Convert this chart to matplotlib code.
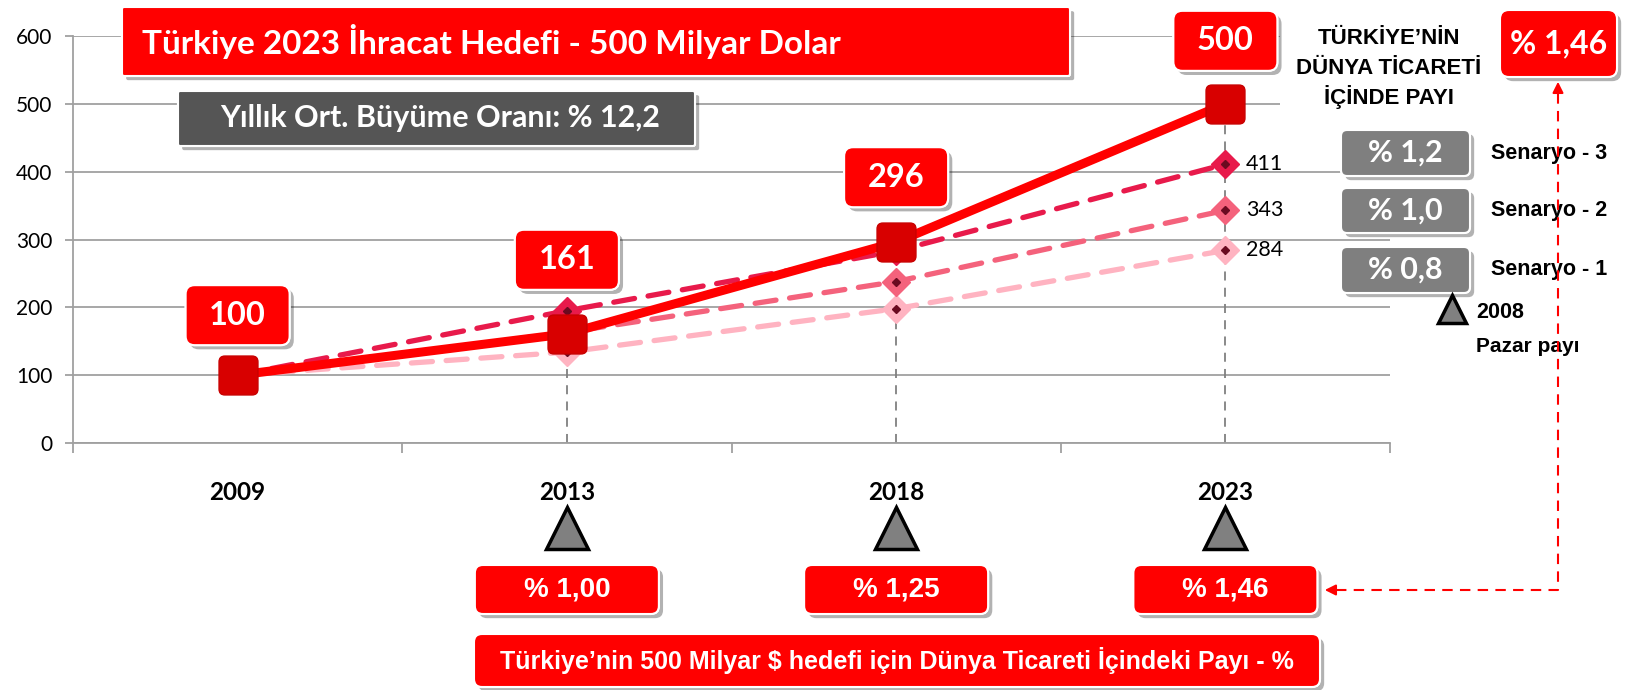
import matplotlib
matplotlib.use('Agg')
import matplotlib.pyplot as plt
import matplotlib.patheffects as pe
from matplotlib.patches import FancyBboxPatch
from matplotlib.transforms import blended_transform_factory

# data
years = ['2009', '2013', '2018', '2023']
hedef = [100, 161, 296, 500]
senaryo_3 = [100, 195, 283, 411]
senaryo_2 = [100, 163, 238, 343]
senaryo_1 = [100, 134, 198, 284]
hedef_pay = ['% 1,00', '% 1,25', '% 1,46']      # 2013, 2018, 2023
senaryo_pay = ['% 1,2', '% 1,0', '% 0,8']
senaryo_names = ['Senaryo - 3', 'Senaryo - 2', 'Senaryo - 1']
yticks = [0, 100, 200, 300, 400, 500, 600]

CAL = 'Lato'
ARIAL = ['Liberation Sans', 'DejaVu Sans']
W, H = 1626, 690

fig = plt.figure(figsize=(W / 100, H / 100), dpi=100)
ax = fig.add_axes([73 / W, (H - 443) / H, (1390 - 73) / W, (443 - 36) / H])
ax.set_zorder(1)

# axes and grid
ax.set_xlim(-0.5, 3.5)
ax.set_ylim(0, 600)
ax.set_yticks(yticks)
ax.set_yticklabels([str(v) for v in yticks], fontsize=15, family=CAL)
ax.yaxis.grid(True, color='#a0a0a0', lw=1.3)
ax.set_axisbelow(True)
ax.set_xticks(range(len(years)))
ax.set_xticklabels(years, fontsize=17.5, fontweight='bold', family=CAL)
ax.set_xticks([i - 0.5 for i in range(len(years) + 1)], minor=True)
ax.tick_params(axis='x', which='major', length=0, pad=27)
ax.tick_params(axis='x', which='minor', length=7, color='#a0a0a0', width=1.3)
ax.tick_params(axis='y', length=6, color='#a0a0a0', width=1.3, pad=9)
for s in ['top', 'right']:
    ax.spines[s].set_visible(False)
for s in ['left', 'bottom']:
    ax.spines[s].set_color('#a0a0a0')
    ax.spines[s].set_linewidth(1.3)

x = list(range(len(years)))

# drop lines
tops = [max(a, b, c, d) for a, b, c, d in zip(hedef, senaryo_3, senaryo_2, senaryo_1)]
ax.vlines(x[1:], 0, tops[1:], colors='#808080', linestyles=(0, (5, 4)), lw=1.3, zorder=1)

# scenario lines
for vals, col in [(senaryo_1, '#ffb3c1'), (senaryo_2, '#f4627c'), (senaryo_3, '#e81a4b')]:
    ax.plot(x, vals, color=col, lw=3.8, dashes=(4, 2.6), dash_capstyle='round', zorder=2)
    ax.plot(x[1:], vals[1:], 'D', color=col, ms=14, zorder=2.5)
    ax.plot(x[1:], vals[1:], 'D', color='#6a0a20', ms=4, zorder=2.6)

# main line with rounded square markers
rsq = FancyBboxPatch((-0.5, -0.5), 1, 1, boxstyle='round,pad=0,rounding_size=0.15').get_path()
ax.plot(x, hedef, color='#ff0000', lw=6.5, solid_capstyle='round', zorder=3)
ax.plot(x, hedef, ls='none', marker=rsq, ms=28, mfc='#d80000', mec='#c80000', zorder=4)

# value labels next to 2023 scenario markers
for v in [senaryo_3[-1], senaryo_2[-1], senaryo_1[-1]]:
    ax.annotate(str(v), (3, v), xytext=(15, 0), textcoords='offset points',
                ha='left', va='center', fontsize=15.5, family=CAL, zorder=5)

# triangles under the years
bt = blended_transform_factory(ax.transData, ax.transAxes)
ax.plot(x[1:], [(443 - 528) / 407] * 3, '^', ms=30, mfc='#808080', mec='black', mew=2.5,
        transform=bt, clip_on=False)

# overlay in pixel coordinates
ov = fig.add_axes([0, 0, 1, 1])
ov.set_zorder(2)
ov.set_xlim(0, W)
ov.set_ylim(H, 0)
ov.axis('off')
ov.patch.set_alpha(0)

shadow = [pe.withSimplePatchShadow(offset=(3, -3), shadow_rgbFace='black', alpha=0.3), pe.Normal()]


def box(x0, y0, x1, y1, color, text=None, size=20, family=CAL, r=8, tx=None, ha='center'):
    p = FancyBboxPatch((x0, y0), x1 - x0, y1 - y0, boxstyle='round,pad=0,rounding_size=%d' % r,
                       fc=color, ec='white', lw=1.5, zorder=3)
    p.set_path_effects(shadow)
    ov.add_patch(p)
    if text:
        ov.text(tx if tx else (x0 + x1) / 2, (y0 + y1) / 2, text, color='white', fontsize=size,
                fontweight='bold', family=family, ha=ha, va='center', zorder=4)


def px(i, v):
    a, b = ax.transData.transform((i, v))
    return a, H - b


# titles
box(122, 7, 1070, 76, '#ff0000', 'Türkiye 2023 İhracat Hedefi - 500 Milyar Dolar', 24, r=2, tx=142, ha='left')
box(178, 91, 695, 146, '#555555', 'Yıllık Ort. Büyüme Oranı: % 12,2', 22, r=2, tx=220, ha='left')

# data label boxes
offsets = [60, 74, 65, 63]
for i, v in enumerate(hedef):
    cx, cy = px(i, v)
    cy -= offsets[i]
    box(cx - 52, cy - 30, cx + 52, cy + 30, '#ff0000', str(v), 23.5, r=9)

# right side header
ov.add_patch(plt.Rectangle((1280, 22), 215, 90, fc='white', ec='none', zorder=2))
for yy, s in zip([39, 68, 97], ['TÜRKİYE’NİN', 'DÜNYA TİCARETİ', 'İÇİNDE PAYI']):
    ov.text(1389, yy, s, fontsize=16, fontweight='bold', family=ARIAL, ha='center', va='center', zorder=3)
box(1500, 10, 1617, 77, '#ff0000', '% 1,46', 23, r=9)

# scenario boxes
for (y0, y1), s, name in zip([(130, 176), (188, 233), (247, 293)], senaryo_pay, senaryo_names):
    box(1341, y0, 1470, y1, '#7f7f7f', s, 22, r=6)
    ov.text(1491, (y0 + y1) / 2, name, fontsize=15.5, fontweight='bold', family=ARIAL,
            ha='left', va='center', zorder=3)
ov.plot([1452], [309], '^', ms=20, mfc='#808080', mec='black', mew=2.5, zorder=3)
ov.text(1476, 313, '2008', fontsize=15.5, fontweight='bold', family=ARIAL, ha='left', va='center', zorder=3)
ov.text(1476, 347, 'Pazar payı', fontsize=15, fontweight='bold', family=ARIAL, ha='left', va='center', zorder=3)

# bottom share boxes
for i, s in zip(x[1:], hedef_pay):
    cx, _ = px(i, 0)
    box(cx - 92, 565, cx + 92, 614, '#ff0000', s, 20, family=ARIAL, r=8)
box(474, 634, 1320, 687, '#ff0000', 'Türkiye’nin 500 Milyar $ hedefi için Dünya Ticareti İçindeki Payı - %',
    18, family=ARIAL, r=8)

# red dashed arrow
ov.plot([1336, 1558, 1558], [590, 590, 92], color='red', lw=1.5, ls=(0, (5, 3.5)), zorder=6)
ov.annotate('', xy=(1322, 590), xytext=(1338, 590),
            arrowprops=dict(arrowstyle='-|>', color='red', lw=1.5, mutation_scale=16), zorder=6)
ov.annotate('', xy=(1558, 79), xytext=(1558, 94),
            arrowprops=dict(arrowstyle='-|>', color='red', lw=1.5, mutation_scale=16), zorder=6)

plt.savefig('out.png', dpi=100)
